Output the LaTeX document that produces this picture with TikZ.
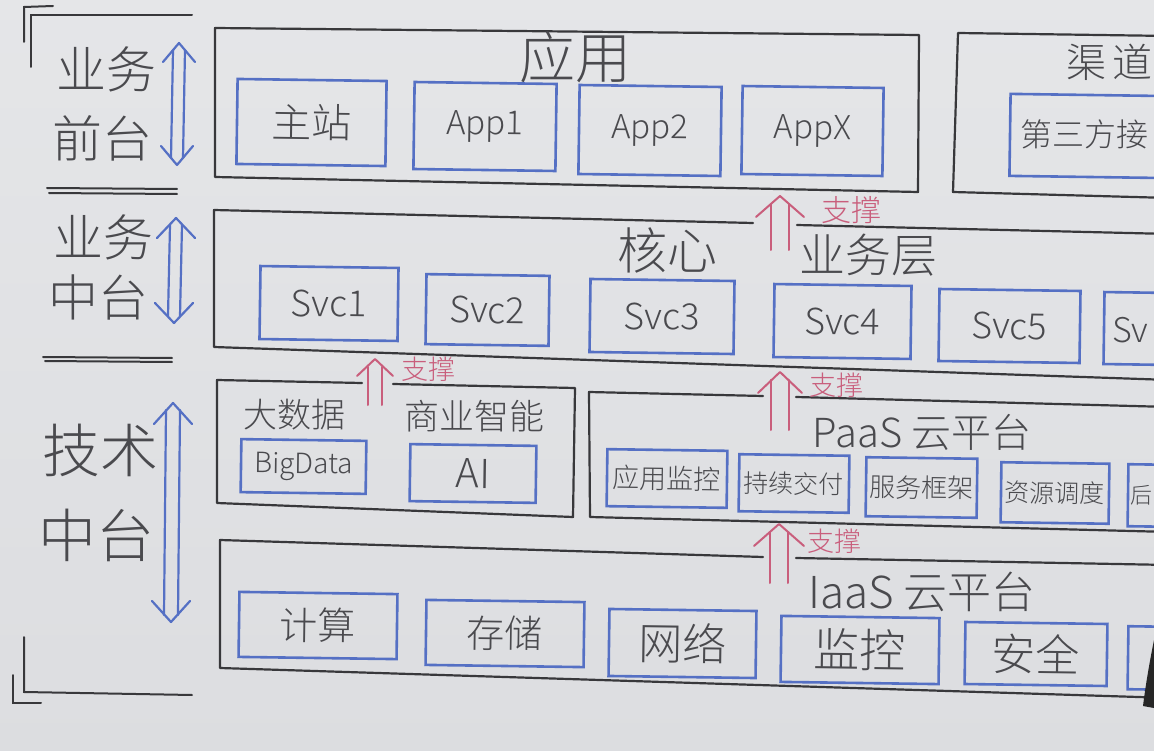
\documentclass[tikz,border=0pt]{standalone}
\usepackage{fontspec}
\newfontfamily\hand{Noto Sans CJK SC Light}
\usetikzlibrary{calc}
\definecolor{ink}{HTML}{4A4A4E}
\definecolor{edge}{HTML}{38383B}
\definecolor{itemblue}{HTML}{5570C4}
\definecolor{supred}{HTML}{C95E7C}
\definecolor{bgtop}{HTML}{E9EAEC}
\definecolor{bgmid}{HTML}{DCDDE0}
\definecolor{bglow}{HTML}{BDBEC1}
\definecolor{bgbot}{HTML}{9FA0A4}
\pgfdeclareverticalshading{board}{100bp}{color(0bp)=(bgbot); color(9bp)=(bglow); color(24bp)=(bgmid); color(100bp)=(bgtop)}
\newcommand\hs[1]{\fontsize{#1}{#1}\selectfont}
\newcommand\supup[5]{%
  \draw[sup] ($(#1)+(-#3,8)$) -- ($(#2)+(-#3,0)$);
  \draw[sup] ($(#1)+(#3,8)$) -- ($(#2)+(#3,0)$);
  \draw[sup] ($(#1)+(-#4,#5)$) -- (#1) -- ($(#1)+(#4,#5)$);
}
\newcommand\updown[5]{%
  \draw[tier] ($(#1)+(-#3,7)$) -- ($(#2)+(-#3,-7)$);
  \draw[tier] ($(#1)+(#3,7)$) -- ($(#2)+(#3,-7)$);
  \draw[tier] ($(#1)+(-#4,#5)$) -- (#1) -- ($(#1)+(#4,#5)$);
  \draw[tier] ($(#2)+(-#4,-#5)$) -- (#2) -- ($(#2)+(#4,-#5)$);
}
\tikzset{
  lay/.style={draw=edge, line width=2.2pt, line join=round, line cap=round},
  item/.style={draw=itemblue, line width=2.6pt, rectangle, inner sep=0pt, text=ink, rotate=-0.8},
  lbl/.style={text=ink, inner sep=0pt},
  sup/.style={draw=supred, line width=2pt, line cap=round, line join=round},
  suplbl/.style={text=supred, inner sep=0pt},
  tier/.style={draw=itemblue, line width=2.2pt, line cap=round, line join=round},
  rulestroke/.style={draw=edge, line width=2pt, line cap=round},
}
\begin{document}
\begin{tikzpicture}[x=1pt,y=-1pt]
\useasboundingbox (0,0) rectangle (1154,751);
\clip (0,0) rectangle (1154,751);
\shade[shading=board] (0,0) rectangle (1154,751);

% ---------- left brackets and separators ----------
\draw[rulestroke] (24,42) -- (24,7) -- (53,6);
\draw[rulestroke] (31,67) -- (31,15) -- (192,15);
\draw[rulestroke] (24,637) -- (24,692) -- (192,695);
\draw[rulestroke] (13,675) -- (13,703) -- (41,703);
\draw[rulestroke] (47,188) -- (177,189);
\draw[rulestroke] (49,193) -- (177,194);
\draw[rulestroke] (43,357) -- (172,358);
\draw[rulestroke] (45,361) -- (172,362);

% ---------- left tier labels ----------
\node[lbl, font=\hand\hs{50}] (fe1) at (106,69) {业务};
\node[lbl, font=\hand\hs{50}] (fe2) at (102,138) {前台};
\node[lbl, font=\hand\hs{50}] (mid1) at (103,237) {业务};
\node[lbl, font=\hand\hs{50}] (mid2) at (98,297) {中台};
\node[lbl, font=\hand\hs{58}] (tech1) at (100,450) {技术};
\node[lbl, font=\hand\hs{58}] (tech2) at (96,535) {中台};

% tier double arrows
\coordinate (t1a) at (179,43);  \coordinate (t1b) at (177,165);
\coordinate (t2a) at (176,218); \coordinate (t2b) at (174,323);
\coordinate (t3a) at (173,403); \coordinate (t3b) at (171,622);
\updown{t1a}{t1b}{6}{16}{19}
\updown{t2a}{t2b}{6}{19}{20}
\updown{t3a}{t3b}{7}{19}{21}

% ---------- containers ----------
% 应用
\coordinate (A1) at (215,28); \coordinate (A2) at (919,35);
\coordinate (A3) at (918,192); \coordinate (A4) at (215,177);
\draw[lay] (A1) -- (A2) -- (A3) -- (A4) -- cycle;
% 渠道
\coordinate (Q1) at (958,33); \coordinate (Q2) at (1170,36);
\coordinate (Q3) at (1170,198); \coordinate (Q4) at (953,192);
\draw[lay] (Q2) -- (Q1) -- (Q4) -- (Q3);
% 核心业务层
\coordinate (H1) at (214,210); \coordinate (Hg1) at (753,223);
\coordinate (Hg2) at (797,225); \coordinate (H2) at (1170,234);
\coordinate (H3) at (1170,380); \coordinate (H4) at (214,347);
\draw[lay] (Hg1) -- (H1) -- (H4) -- (H3);
\draw[lay] (Hg2) -- (H2);
% 大数据 / 商业智能
\coordinate (D1) at (217,380); \coordinate (Dg1) at (362,383);
\coordinate (Dg2) at (393,384); \coordinate (D2) at (575,388);
\coordinate (D3) at (573,517); \coordinate (D4) at (217,503);
\draw[lay] (Dg1) -- (D1) -- (D4) -- (D3) -- (D2) -- (Dg2);
% PaaS
\coordinate (P1) at (589,392); \coordinate (Pg1) at (763,396);
\coordinate (Pg2) at (796,397); \coordinate (P2) at (1170,407);
\coordinate (P3) at (1170,532); \coordinate (P4) at (590,517);
\draw[lay] (Pg1) -- (P1) -- (P4) -- (P3);
\draw[lay] (Pg2) -- (P2);
% IaaS
\coordinate (I1) at (220,540); \coordinate (Ig1) at (763,557);
\coordinate (Ig2) at (796,558); \coordinate (I2) at (1170,565);
\coordinate (I3) at (1170,698); \coordinate (I4) at (220,668);
\draw[lay] (Ig1) -- (I1) -- (I4) -- (I3);
\draw[lay] (Ig2) -- (I2);

% ---------- container titles ----------
\node[lbl, font=\hand\hs{56}] (yingyong) at (575,57) {应用};
\node[lbl, font=\hand\hs{40}, anchor=west] (qudao) at (1066,62) {渠\hspace{6pt}道};
\node[lbl, font=\hand\hs{50}] (hexin) at (667,250) {核心};
\node[lbl, font=\hand\hs{46}] (yewuceng) at (868,255) {业务层};
\node[lbl, font=\hand\hs{34}] (dashuju) at (294,415) {大数据};
\node[lbl, font=\hand\hs{35}] (shangye) at (474,416) {商业智能};
\node[lbl, font=\hand\hs{40}] (paas) at (922,432) {PaaS 云平台};
\node[lbl, font=\hand\hs{44}] (iaas) at (922,592) {IaaS 云平台};

% ---------- items ----------
\node[item, minimum width=149pt, minimum height=85pt, font=\hand\hs{40}] (zhuzhan) at (311.5,122.5) {主站};
\node[item, minimum width=142pt, minimum height=87pt, font=\hand\hs{33}] (app1) at (485,126.5) {App1};
\node[item, minimum width=142pt, minimum height=89pt, font=\hand\hs{33}] (app2) at (650,130.5) {App2};
\node[item, minimum width=141pt, minimum height=88pt, font=\hand\hs{33}] (appx) at (812.5,131) {AppX};
\node[item, minimum width=160pt, minimum height=82pt] (third) at (1090,136) {};
\node[lbl, font=\hand\hs{32}, anchor=west] (thirdtxt) at (1020,134) {第三方接};

\node[item, minimum width=138pt, minimum height=73pt, font=\hand\hs{36}] (svc1) at (329,303.5) {Svc1};
\node[item, minimum width=123pt, minimum height=70pt, font=\hand\hs{36}] (svc2) at (487.5,310) {Svc2};
\node[item, minimum width=144pt, minimum height=73pt, font=\hand\hs{36}] (svc3) at (662,316.5) {Svc3};
\node[item, minimum width=137pt, minimum height=73pt, font=\hand\hs{36}] (svc4) at (842.5,321.5) {Svc4};
\node[item, minimum width=141pt, minimum height=72pt, font=\hand\hs{36}] (svc5) at (1009.5,326) {Svc5};
\node[item, minimum width=136pt, minimum height=72pt] (svc6) at (1172,329) {};
\node[lbl, font=\hand\hs{34}, anchor=west] (svc6txt) at (1112,330) {Sv};

\node[item, minimum width=125pt, minimum height=53pt, font=\hand\hs{28}] (bigdata) at (303.5,466.5) {BigData};
\node[item, minimum width=126pt, minimum height=57pt, font=\hand\hs{40}] (ai) at (473,473.5) {AI};

\node[item, minimum width=120pt, minimum height=57pt, font=\hand\hs{27}] (jiankong1) at (667,478.5) {应用监控};
\node[item, minimum width=110pt, minimum height=57pt, font=\hand\hs{25}] (jiaofu) at (794,483.5) {持续交付};
\node[item, minimum width=111pt, minimum height=59pt, font=\hand\hs{26}] (kuangjia) at (921.5,487.5) {服务框架};
\node[item, minimum width=108pt, minimum height=60pt, font=\hand\hs{25}] (diaodu) at (1055,493) {资源调度};
\node[item, minimum width=112pt, minimum height=62pt] (hou) at (1184,496) {};
\node[lbl, font=\hand\hs{22}, anchor=west] (houtxt) at (1130,495) {后};

\node[item, minimum width=158pt, minimum height=65pt, font=\hand\hs{38}] (jisuan) at (318,625.5) {计算};
\node[item, minimum width=158pt, minimum height=65pt, font=\hand\hs{38}] (cunchu) at (505,633.5) {存储};
\node[item, minimum width=147pt, minimum height=67pt, font=\hand\hs{44}] (wangluo) at (682.5,643.5) {网络};
\node[item, minimum width=158pt, minimum height=66pt, font=\hand\hs{46}] (jiankong2) at (860,650) {监控};
\node[item, minimum width=142pt, minimum height=62pt, font=\hand\hs{44}] (anquan) at (1036,654) {安全};
\node[item, minimum width=112pt, minimum height=63pt] (iaaslast) at (1184,658.5) {};

% ---------- support arrows ----------
\coordinate (s1t) at (780,196); \coordinate (s1b) at (780,250);
\coordinate (s2t) at (375,359); \coordinate (s2b) at (375,405);
\coordinate (s3t) at (780,372); \coordinate (s3b) at (780,430);
\coordinate (s4t) at (779,524); \coordinate (s4b) at (779,583);
\supup{s1t}{s1b}{9}{24}{21}
\supup{s2t}{s2b}{7}{18}{17}
\supup{s3t}{s3b}{9}{22}{21}
\supup{s4t}{s4b}{9}{25}{22}
\node[suplbl, font=\hand\hs{30}] (zc1) at (851,210) {支撑};
\node[suplbl, font=\hand\hs{27}] (zc2) at (428,369) {支撑};
\node[suplbl, font=\hand\hs{27}] (zc3) at (836,385) {支撑};
\node[suplbl, font=\hand\hs{27}] (zc4) at (834,541) {支撑};

% hand at the lower right edge
\fill[black!85] (1154,640) .. controls (1150,660) and (1146,682) .. (1143,706) -- (1154,708) -- cycle;
\end{tikzpicture}
\end{document}
